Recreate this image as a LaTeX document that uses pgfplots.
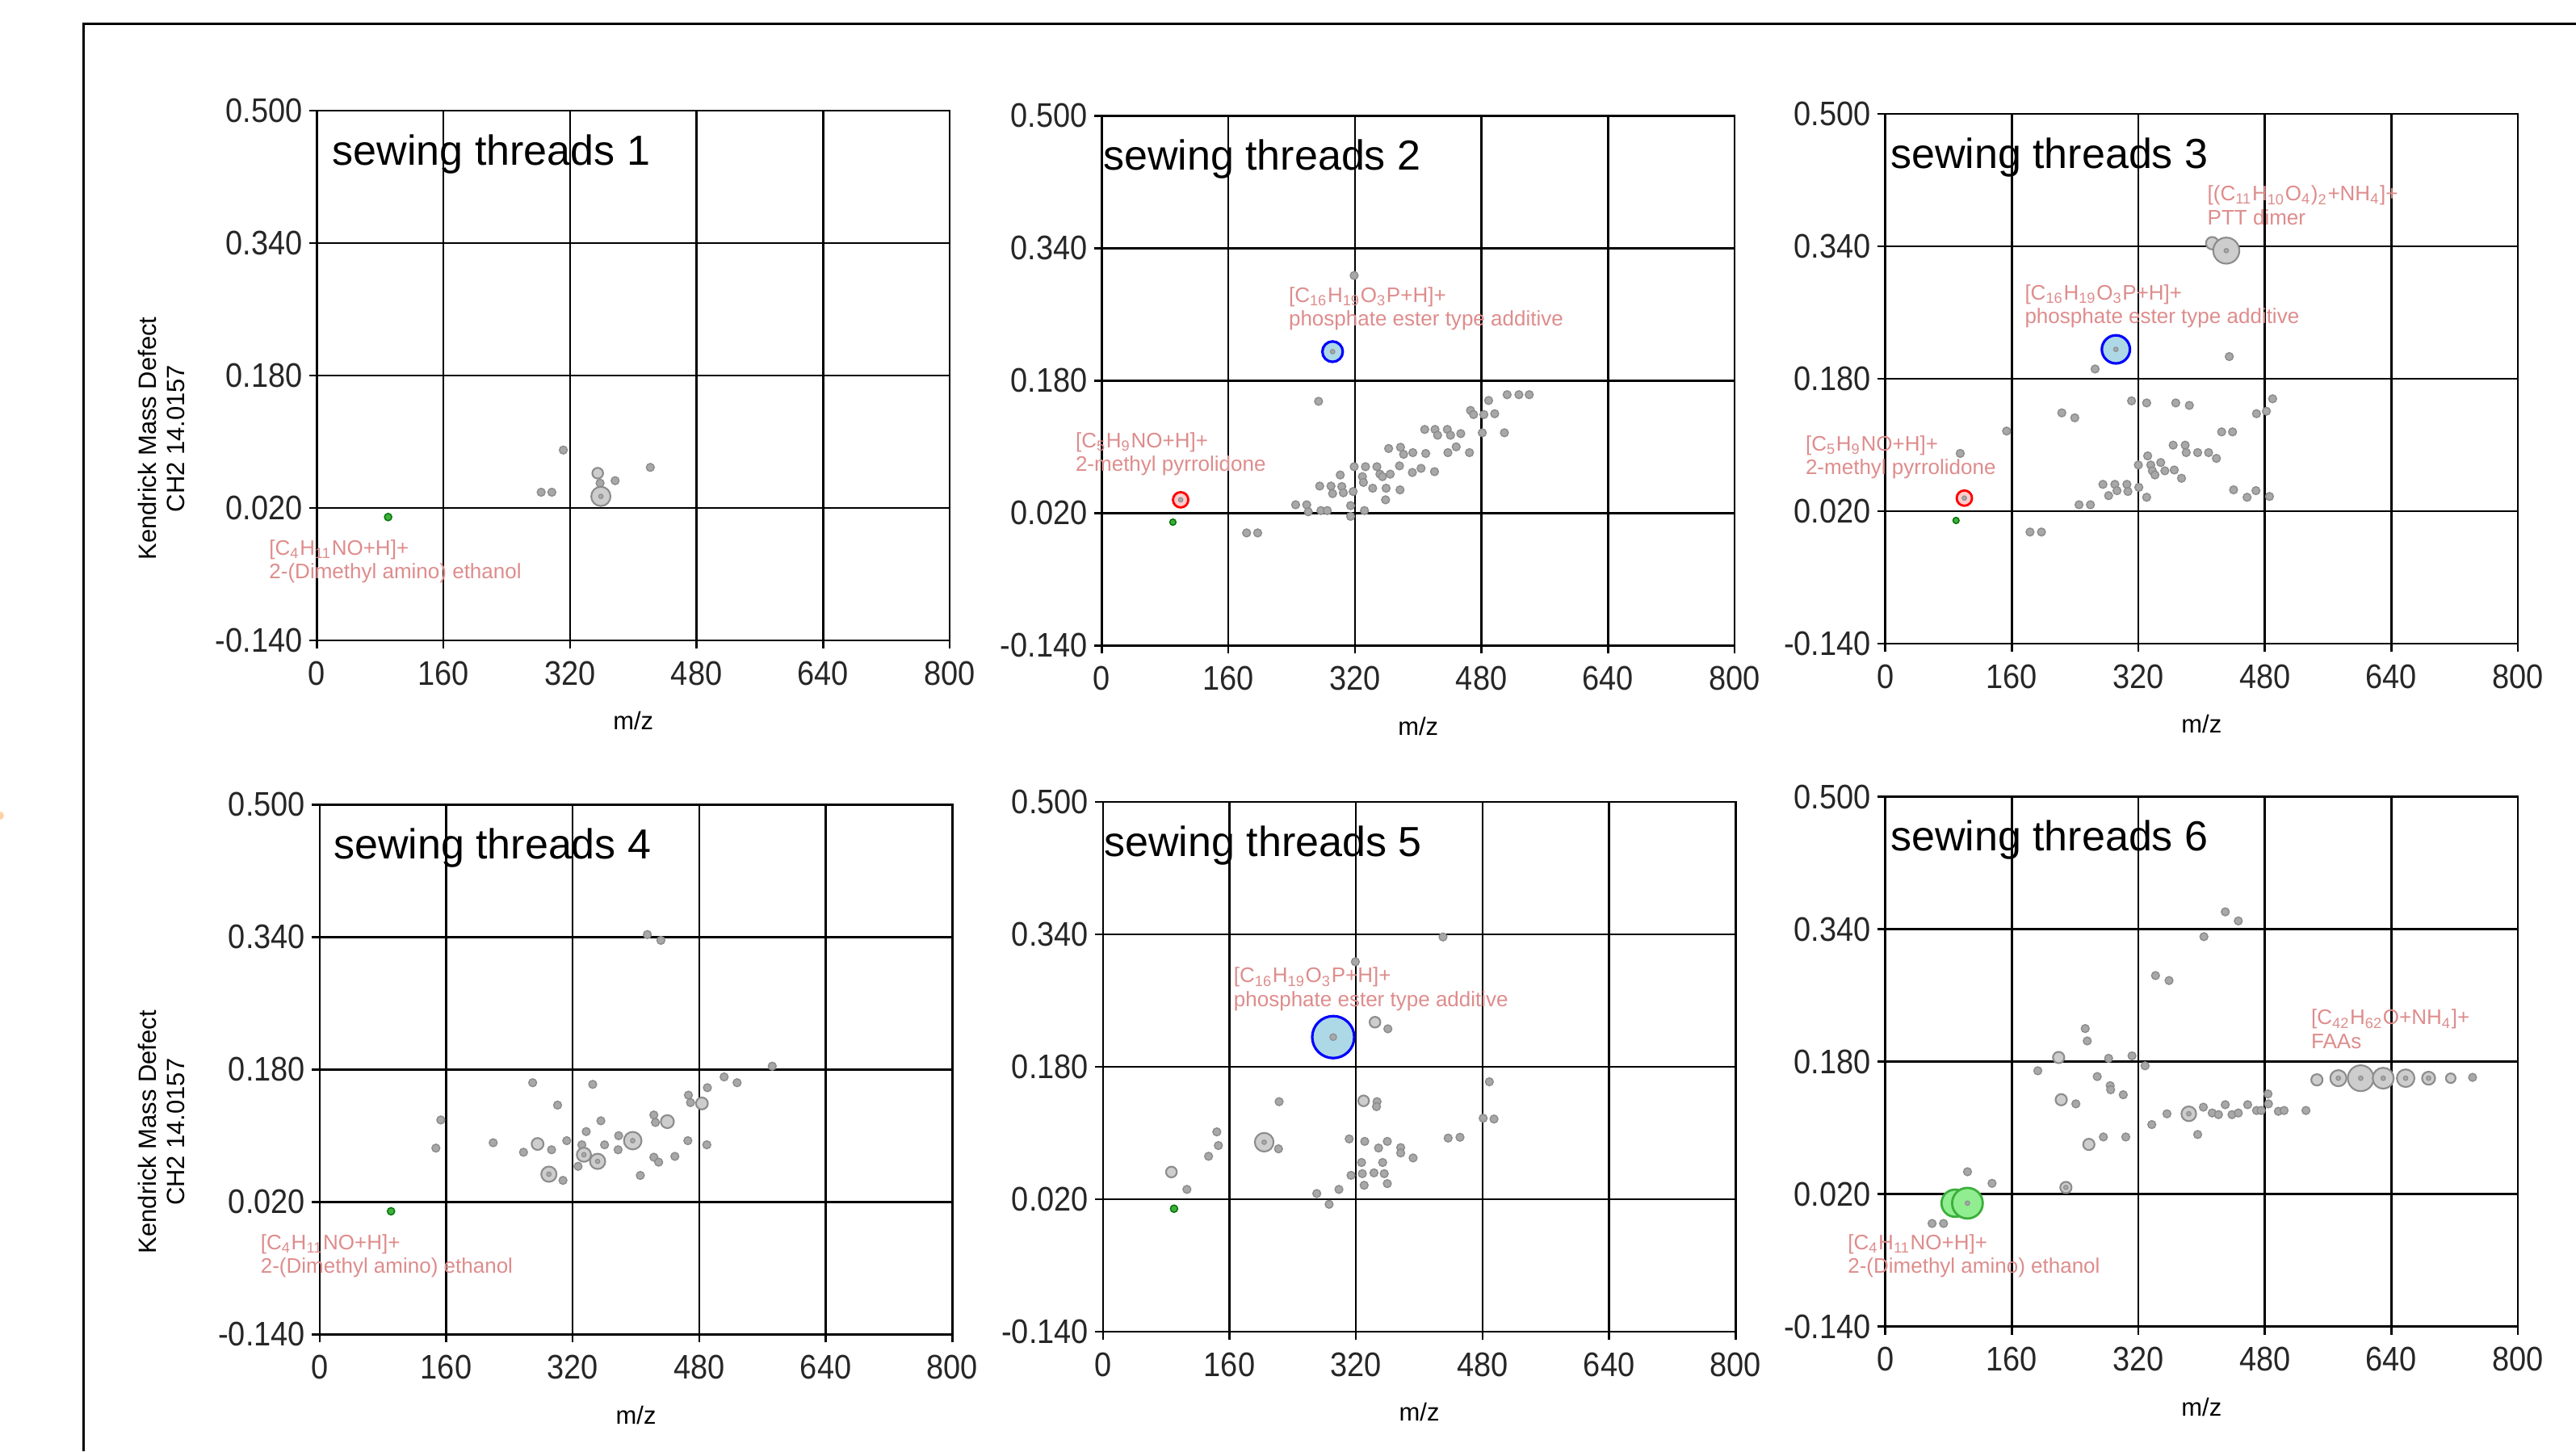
\documentclass[border=0pt]{standalone}
\usepackage{pgfplots}
\pgfplotsset{compat=1.18}
\usepackage{fontspec}
\setmainfont{Liberation Sans}
\newfontfamily\tickfont[FakeStretch=0.9]{Liberation Sans}
\definecolor{annot}{RGB}{222,140,140}
\definecolor{ptdraw}{RGB}{140,140,140}
\definecolor{ptsmall}{RGB}{168,168,168}
\definecolor{ptfill}{RGB}{205,205,205}
\definecolor{bluefill}{RGB}{173,216,230}
\definecolor{greenfill}{RGB}{144,238,144}
\definecolor{greendraw}{RGB}{60,175,60}
\definecolor{redfill}{RGB}{255,205,205}
\newcommand{\annfont}{\fontsize{7.4}{8.3}\selectfont}
\newcommand{\ttl}{\fontsize{14.8}{16}\selectfont}
\pgfplotsset{
  panel/.style={
    scale only axis, width=78.35mm, height=65.6mm,
    xmin=0, xmax=800, ymin=-0.14, ymax=0.5,
    xtick={0,160,320,480,640,800},
    xticklabels={0,160,320,480,640,800},
    ytick={-0.14,0.02,0.18,0.34,0.5},
    yticklabels={-0.140,0.020,0.180,0.340,0.500},
    grid=major,
    major grid style={black, line width=0.25mm},
    axis line style={black, line width=0.25mm},
    tick align=outside, major tick length=1mm,
    tick style={black, line width=0.25mm},
    xtick pos=left, ytick pos=left,
    ticklabel style={font=\tickfont\fontsize{12}{13}\selectfont, text=black!85},
    xticklabel style={yshift=-0.35mm},
    yticklabel style={xshift=0.45mm},
    xlabel={m/z},
    xlabel style={font=\fontsize{8.8}{10}\selectfont, at={(rel axis cs:0.5,-0.152)}, anchor=center},
    clip mode=individual,
  },
  gs/.style={only marks, mark=*, mark size=1.4pt, mark options={fill=ptsmall, draw=ptdraw, line width=0.4pt}},
  gd/.style={only marks, mark=*, mark size=0.8pt, mark options={fill=ptsmall, draw=ptdraw, line width=0.3pt}},
  gm/.style={only marks, mark=*, mark size=#1, mark options={fill=ptfill, draw=ptdraw, line width=0.6pt}},
  gn/.style={only marks, mark=*, mark size=1.3pt, mark options={fill=greendraw, draw=green!45!black, line width=0.4pt}},
  bc/.style={only marks, mark=*, mark size=#1, mark options={fill=bluefill, draw=blue, line width=0.9pt}},
  rc/.style={only marks, mark=*, mark size=#1, mark options={fill=redfill, draw=red, line width=0.8pt}},
  gc/.style={only marks, mark=*, mark size=#1, mark options={fill=greenfill, draw=greendraw, line width=0.8pt}},
}
\begin{document}
\begin{tikzpicture}
\useasboundingbox (0,0) rectangle (319mm,179.7mm);
\draw[line width=0.3mm, black] (10.3mm,0) -- (10.3mm,176.7mm) -- (319.5mm,176.7mm);
\fill[orange!35] (0,78.7mm) circle (0.5mm);

% ---------------- Panel 1
\begin{axis}[panel, at={(39.25mm,100.4mm)}, anchor=south west]
\addplot[gs] coordinates {(311.5,0.090) (283.5,0.039) (297,0.039) (358,0.050) (377,0.053) (421.5,0.069)};
\addplot[gm=1.9pt] coordinates {(355,0.062)};
\addplot[gm=3.4pt] coordinates {(359,0.034)};
\addplot[gd] coordinates {(359,0.034)};
\addplot[gn] coordinates {(90,0.009)};
\node[anchor=north west, inner sep=0pt, font=\ttl] at (axis cs:19,0.472) {sewing threads 1};
\node[anchor=north west, inner sep=0pt, align=left, font=\annfont, text=annot] at (axis cs:-61,-0.018)
  {[C\textsubscript{4}H\textsubscript{11}NO+H]+\\2-(Dimethyl amino) ethanol};
\node[rotate=90, align=center, font=\fontsize{8.8}{10}\selectfont] at (rel axis cs:-0.2455,0.381)
  {Kendrick Mass Defect\\CH2 14.0157};
\end{axis}

% ---------------- Panel 2
\begin{axis}[panel, at={(136.45mm,99.77mm)}, anchor=south west]
\addplot[gs] coordinates {(319,0.307) (274,0.155) (183,-0.004) (197,-0.004) (245,0.030) (259,0.030) (261,0.0215) (277,0.023) (285,0.023) (314.5,0.029) (314.5,0.016) (332,0.023) (275.4,0.0526) (289.7,0.0526) (291.7,0.0435) (303.4,0.052) (305.3,0.0445) (317.7,0.046) (301.4,0.066) (319,0.076) (329.4,0.064) (333.3,0.076) (330.7,0.057) (342.4,0.050) (347.7,0.076) (351.6,0.067) (354.8,0.064) (359.4,0.050) (364.6,0.067) (376.3,0.077) (377,0.048) (358.7,0.036) (362.6,0.098) (377.6,0.0995) (381.5,0.091) (393.2,0.093) (409.5,0.092) (392.6,0.069) (403.6,0.074) (420.6,0.070) (408.2,0.121) (421.2,0.121) (424.5,0.114) (436.8,0.121) (440.8,0.114) (453.8,0.116) (437.5,0.093) (448,0.100) (464.8,0.093) (466.1,0.144) (470,0.139) (483,0.139) (496.7,0.140) (489,0.156) (481,0.117) (509,0.117) (512.4,0.163) (527.3,0.163) (540.4,0.163)};
\addplot[bc=3.6pt] coordinates {(291.7,0.215)};
\addplot[gd] coordinates {(291.7,0.215)};
\addplot[rc=2.7pt] coordinates {(99.6,0.036)};
\addplot[gd] coordinates {(99.6,0.036)};
\addplot[gn, mark size=1.1pt] coordinates {(89.8,0.009)};
\node[anchor=north west, inner sep=0pt, font=\ttl] at (axis cs:1,0.472) {sewing threads 2};
\node[anchor=north west, inner sep=0pt, align=left, font=\annfont, text=annot] at (axis cs:235.7,0.294)
  {[C\textsubscript{16}H\textsubscript{19}O\textsubscript{3}P+H]+\\phosphate ester type additive};
\node[anchor=north west, inner sep=0pt, align=left, font=\annfont, text=annot] at (axis cs:-33.9,0.118)
  {[C\textsubscript{5}H\textsubscript{9}NO+H]+\\2-methyl pyrrolidone};
\end{axis}

% ---------------- Panel 3
\begin{axis}[panel, at={(233.46mm,99.98mm)}, anchor=south west]
\addplot[gs] coordinates {(265.3,0.192) (435,0.207) (153.4,0.117) (94.8,0.090) (183,-0.005) (197.5,-0.005) (245,0.028) (259.4,0.028) (223.2,0.139) (239.6,0.133) (311.4,0.1535) (330.5,0.151) (367.3,0.151) (384.5,0.148) (469.4,0.138) (481.9,0.141) (489.8,0.156) (425.3,0.116) (439.1,0.116) (364,0.100) (379.2,0.100) (380.5,0.091) (395,0.091) (408.8,0.091) (418.7,0.084) (331.8,0.087) (320,0.076) (335.7,0.076) (348.3,0.079) (337.7,0.069) (341,0.064) (353.5,0.069) (365.4,0.070) (374.6,0.060) (275.2,0.0526) (290.3,0.0526) (305.5,0.0526) (320.6,0.049) (282.4,0.039) (293,0.045) (306.8,0.044) (330.5,0.037) (440.4,0.046) (457.5,0.037) (468.7,0.045) (485.8,0.038)};
\addplot[gm=2.2pt] coordinates {(413.4,0.344)};
\addplot[gm=4.6pt] coordinates {(431.2,0.335)};
\addplot[gd] coordinates {(431.2,0.335)};
\addplot[bc=4.95pt] coordinates {(291.6,0.2157)};
\addplot[gd] coordinates {(291.6,0.2157)};
\addplot[rc=2.7pt] coordinates {(100,0.036)};
\addplot[gd] coordinates {(100,0.036)};
\addplot[gn, mark size=1.1pt] coordinates {(89.5,0.009)};
\node[anchor=north west, inner sep=0pt, font=\ttl] at (axis cs:6,0.472) {sewing threads 3};
\node[anchor=north west, inner sep=0pt, align=left, font=\annfont, text=annot] at (axis cs:406.8,0.414)
  {[(C\textsubscript{11}H\textsubscript{10}O\textsubscript{4})\textsubscript{2}+NH\textsubscript{4}]+\\PTT dimer};
\node[anchor=north west, inner sep=0pt, align=left, font=\annfont, text=annot] at (axis cs:175.8,0.2947)
  {[C\textsubscript{16}H\textsubscript{19}O\textsubscript{3}P+H]+\\phosphate ester type additive};
\node[anchor=north west, inner sep=0pt, align=left, font=\annfont, text=annot] at (axis cs:-101.4,0.112)
  {[C\textsubscript{5}H\textsubscript{9}NO+H]+\\2-methyl pyrrolidone};
\end{axis}

% ---------------- Panel 4
\begin{axis}[panel, at={(39.58mm,14.47mm)}, anchor=south west]
\addplot[gs] coordinates {(414.4,0.343) (431.5,0.336) (572.3,0.184) (269.4,0.164) (345.3,0.162) (511.5,0.171) (527.9,0.164) (300.9,0.137) (466.3,0.149) (490.3,0.158) (469,0.140) (153.2,0.119) (147,0.085) (219.5,0.0915) (257.8,0.080) (293.3,0.083) (312.5,0.094) (337.1,0.105) (355.6,0.118) (331.6,0.089) (360.3,0.089) (326.8,0.063) (307.7,0.046) (378.1,0.100) (377.4,0.083) (422.6,0.125) (424.6,0.116) (465.6,0.094) (489.6,0.089) (449.2,0.075) (422.6,0.074) (428.7,0.068) (405.5,0.052)};
\addplot[gm=2.1pt] coordinates {(275.6,0.090) (483.4,0.139)};
\addplot[gm=2.3pt] coordinates {(439.7,0.117)};
\addplot[gm=2.5pt] coordinates {(334.2,0.077)};
\addplot[gm=2.7pt] coordinates {(351.5,0.069) (289.9,0.0535)};
\addplot[gm=3.1pt] coordinates {(395.9,0.094)};
\addplot[gd] coordinates {(351.5,0.069) (289.9,0.0535) (395.9,0.094) (334.2,0.077)};
\addplot[gn] coordinates {(90.3,0.0087)};
\node[anchor=north west, inner sep=0pt, font=\ttl] at (axis cs:17,0.472) {sewing threads 4};
\node[anchor=north west, inner sep=0pt, align=left, font=\annfont, text=annot] at (axis cs:-75.2,-0.0187)
  {[C\textsubscript{4}H\textsubscript{11}NO+H]+\\2-(Dimethyl amino) ethanol};
\node[rotate=90, align=center, font=\fontsize{8.8}{10}\selectfont] at (rel axis cs:-0.25,0.382)
  {Kendrick Mass Defect\\CH2 14.0157};
\end{axis}

% ---------------- Panel 5
\begin{axis}[panel, at={(136.58mm,14.79mm)}, anchor=south west]
\addplot[gs] coordinates {(430,0.337) (319.2,0.307) (360.3,0.226) (488.6,0.162) (480.8,0.118) (494.5,0.117) (222.8,0.138) (346.6,0.138) (345.9,0.132) (144,0.1015) (146,0.085) (133.6,0.072) (222,0.081) (106.2,0.032) (270.4,0.027) (286,0.014) (298.4,0.032) (311.4,0.093) (331,0.090) (348.5,0.082) (359.6,0.090) (376.5,0.0825) (376.5,0.076) (392.2,0.070) (436.5,0.094) (451.5,0.095) (327,0.0645) (353.7,0.0645) (313.7,0.049) (328,0.051) (342.7,0.052) (355.7,0.051) (359.6,0.039) (330.3,0.037)};
\addplot[gm=1.9pt] coordinates {(86.6,0.053) (344,0.234) (329.6,0.139)};
\addplot[gm=3.3pt] coordinates {(203.9,0.089)};
\addplot[gd] coordinates {(203.9,0.089)};
\addplot[bc=7.4pt] coordinates {(291.2,0.216)};
\addplot[gd, mark size=1.2pt] coordinates {(291.2,0.216)};
\addplot[gn] coordinates {(89.9,0.0087)};
\node[anchor=north west, inner sep=0pt, font=\ttl] at (axis cs:1,0.472) {sewing threads 5};
\node[anchor=north west, inner sep=0pt, align=left, font=\annfont, text=annot] at (axis cs:164.8,0.3007)
  {[C\textsubscript{16}H\textsubscript{19}O\textsubscript{3}P+H]+\\phosphate ester type additive};
\end{axis}

% ---------------- Panel 6
\begin{axis}[panel, at={(233.46mm,15.44mm)}, anchor=south west]
\addplot[gs] coordinates {(59.2,-0.0155) (73.7,-0.0155) (104,0.047) (135,0.033) (429.9,0.361) (446.4,0.350) (402.9,0.331) (341.7,0.284) (358.8,0.278) (252.8,0.220) (255.4,0.205) (192.9,0.169) (282.4,0.184) (312,0.187) (328.5,0.175) (268,0.162) (284.4,0.151) (285,0.146) (300.9,0.140) (241,0.129) (275.8,0.089) (304.1,0.089) (337,0.104) (356.2,0.117) (395,0.092) (402.2,0.125) (413.4,0.118) (421.3,0.116) (429.9,0.128) (438.4,0.116) (446.4,0.118) (458.2,0.128) (469.4,0.121) (475.3,0.121) (483.9,0.141) (484.5,0.129) (497,0.120) (504.3,0.121) (531.9,0.121) (742.6,0.161)};
\addplot[gm=2.0pt] coordinates {(219.2,0.185) (222.5,0.134) (257.4,0.080) (228.4,0.028) (545.8,0.158)};
\addplot[gm=2.6pt] coordinates {(383.8,0.117)};
\addplot[gm=1.7pt] coordinates {(715,0.160)};
\addplot[gm=2.3pt] coordinates {(687,0.160)};
\addplot[gm=2.85pt] coordinates {(572.9,0.160)};
\addplot[gm=3.1pt] coordinates {(658,0.160)};
\addplot[gm=4.55pt] coordinates {(601.2,0.160)};
\addplot[gm=3.7pt] coordinates {(629.6,0.160)};
\addplot[gd] coordinates {(572.9,0.160) (601.2,0.160) (629.6,0.160) (658,0.160) (687,0.160) (383.8,0.117) (228.4,0.028)};
\addplot[gc=4.8pt] coordinates {(88.3,0.009)};
\addplot[gc=5.4pt] coordinates {(103.9,0.009)};
\addplot[gd] coordinates {(103.9,0.009)};
\node[anchor=north west, inner sep=0pt, font=\ttl] at (axis cs:6,0.472) {sewing threads 6};
\node[anchor=north west, inner sep=0pt, align=left, font=\annfont, text=annot] at (axis cs:537.9,0.2436)
  {[C\textsubscript{42}H\textsubscript{62}O+NH\textsubscript{4}]+\\FAAs};
\node[anchor=north west, inner sep=0pt, align=left, font=\annfont, text=annot] at (axis cs:-48,-0.028)
  {[C\textsubscript{4}H\textsubscript{11}NO+H]+\\2-(Dimethyl amino) ethanol};
\end{axis}
\end{tikzpicture}
\end{document}
